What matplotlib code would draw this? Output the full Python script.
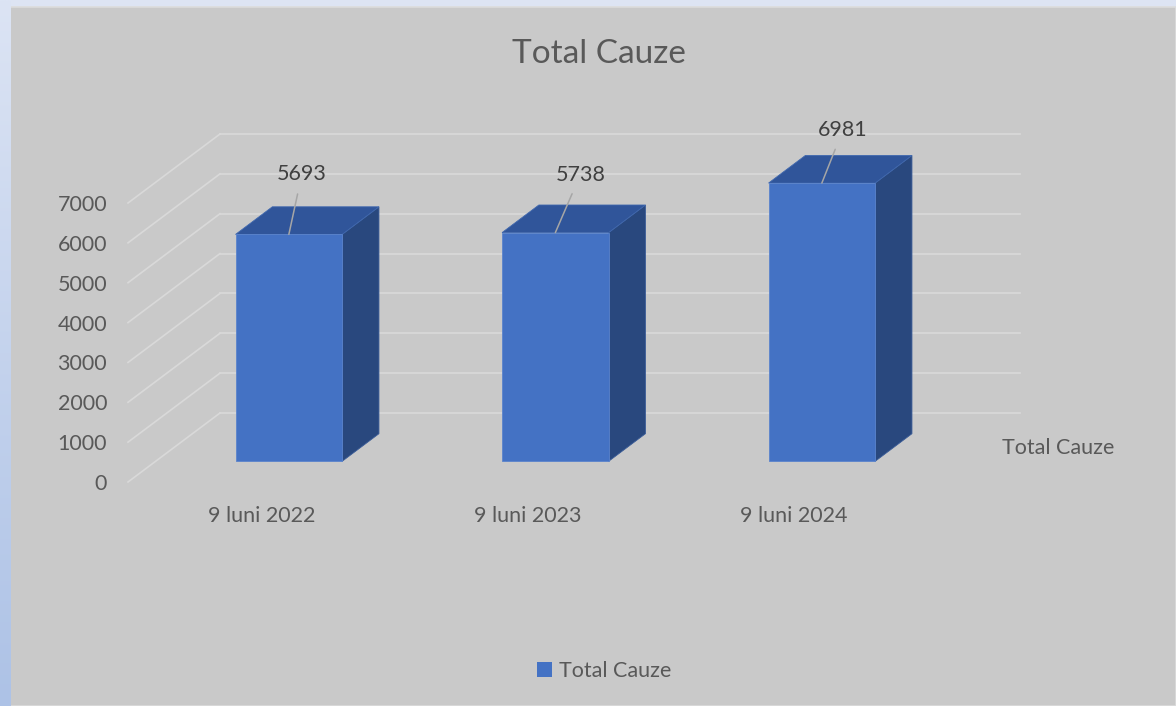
import numpy as np
import matplotlib
matplotlib.use("Agg")
import matplotlib.pyplot as plt
from matplotlib.patches import Polygon, Rectangle, Patch
from matplotlib.transforms import Affine2D, IdentityTransform
from matplotlib.colors import LinearSegmentedColormap

# ---------------- data ----------------
categories = ["9 luni 2022", "9 luni 2023", "9 luni 2024"]
values = [5693, 5738, 6981]
series_name = "Total Cauze"
title = "Total Cauze"
y_ticks = [0, 1000, 2000, 3000, 4000, 5000, 6000, 7000]

# ---------------- style / layout ----------------
plt.rcParams['font.family'] = ['Lato', 'DejaVu Sans']
W, H = 1176, 706
DPI = 100
FRONT = "#4472C4"
SIDE = "#29487E"
TOP = "#30559A"
GRID = "#D9D9D9"
BG = "#C9C9C9"
TXT = "#595959"
LBL = "#404040"
DX, DY = 92.0, 69.0          # depth vector in pixels (floor front -> back wall)
D0, D1 = 0.30, 0.70          # bar depth span
BAR_W = 0.40
label_offsets = [(13, 60), (25, 58), (21, 53)]  # data label offsets (px)

fig = plt.figure(figsize=(W / DPI, H / DPI), dpi=DPI)
fig.patch.set_facecolor("#DDE4F3")

# left gradient strip
gax = fig.add_axes([0, 0, 10 / W, 1])
grad = np.linspace(0, 1, 256).reshape(-1, 1)
cmap = LinearSegmentedColormap.from_list("g", ["#ADC2E6", "#DCE4F4"])
gax.imshow(grad, aspect="auto", cmap=cmap, origin="lower", extent=[0, 1, 0, 1])
gax.set_axis_off()

# chart area
fig.add_artist(Rectangle((10 / W, 0), 1 - 10 / W, (H - 7) / H, transform=fig.transFigure,
                         facecolor=BG, edgecolor="#DCDCDC", lw=1.2, zorder=0))

ax = fig.add_axes([128 / W, 224 / H, 799.5 / W, 279 / H])
ax.set_facecolor("none")
ax.set_xlim(-0.5, len(categories) - 0.5)
ax.set_ylim(0, 7000)
for s in ax.spines.values():
    s.set_visible(False)
ax.set_yticks(y_ticks)
ax.set_yticklabels([str(t) for t in y_ticks])
ax.set_xticks(range(len(categories)))
ax.set_xticklabels(categories)
ax.tick_params(axis="y", length=0, pad=15, labelsize=15.5, labelcolor=TXT)
ax.tick_params(axis="x", length=0, pad=17, labelsize=15.5, labelcolor=TXT)


def proj(x, v, d):
    p = ax.transData.transform((x, v))
    return p + d * np.array([DX, DY])


xl, xr = ax.get_xlim()
# gridlines: back wall and left wall
for v in y_ticks:
    a, b = proj(xl, v, 1), proj(xr, v, 1)
    ax.add_line(plt.Line2D([a[0], b[0]], [a[1], b[1]], transform=IdentityTransform(),
                           color=GRID, lw=1.2, clip_on=False, zorder=1))
    c, e = proj(xl, v, 0), proj(xl, v, 1)
    ax.add_line(plt.Line2D([c[0], e[0]], [c[1], e[1]], transform=IdentityTransform(),
                           color=GRID, lw=1.2, clip_on=False, zorder=1))

# bars
x = np.arange(len(categories))
front_tr = ax.transData + Affine2D().translate(DX * D0, DY * D0)
for i, v in enumerate(values):
    l, r = x[i] - BAR_W / 2, x[i] + BAR_W / 2
    side = [proj(r, 0, D0), proj(r, 0, D1), proj(r, v, D1), proj(r, v, D0)]
    top = [proj(l, v, D0), proj(r, v, D0), proj(r, v, D1), proj(l, v, D1)]
    ax.add_patch(Polygon(side, closed=True, transform=IdentityTransform(), facecolor=SIDE,
                         edgecolor="#3A5C98", lw=0.6, clip_on=False, zorder=3))
    ax.add_patch(Polygon(top, closed=True, transform=IdentityTransform(), facecolor=TOP,
                         edgecolor="#4068AE", lw=0.6, clip_on=False, zorder=3))
bars = ax.bar(x, values, width=BAR_W, color=FRONT, edgecolor="#5A83CC", lw=0.6,
              transform=front_tr, zorder=4)
for b in bars:
    b.set_clip_on(False)
ax.set_xlim(-0.5, len(categories) - 0.5)
ax.set_ylim(0, 7000)

# data labels with leader lines
for i, v in enumerate(values):
    anchor = proj(x[i], v, D0)
    ax.annotate(str(v), xy=(anchor[0], anchor[1]), xycoords="figure pixels",
                xytext=label_offsets[i], textcoords="offset pixels",
                ha="center", va="center", fontsize=15.5, color=LBL, zorder=6,
                arrowprops=dict(arrowstyle="-", color="#A6A6A6", lw=1.1,
                                shrinkA=5, shrinkB=0))

# series (depth) axis label
m = proj(xr, 0, 0.5)
ax.annotate(series_name, xy=(m[0], m[1]), xycoords="figure pixels", xytext=(29, -1),
            textcoords="offset pixels", ha="left", va="center", fontsize=15.5, color=TXT)

# title
fig.text(599 / W, (H - 54) / H, title, ha="center", va="center", fontsize=24, color=TXT)

# legend
fig.legend(handles=[Patch(facecolor=FRONT, edgecolor="none", label=series_name)],
           loc="center", bbox_to_anchor=(604 / W, (H - 671) / H), frameon=False,
           fontsize=15.5, labelcolor=TXT, handlelength=0.7, handleheight=0.7,
           handletextpad=0.35)

fig.savefig("out.png", dpi=DPI, facecolor=fig.get_facecolor())
